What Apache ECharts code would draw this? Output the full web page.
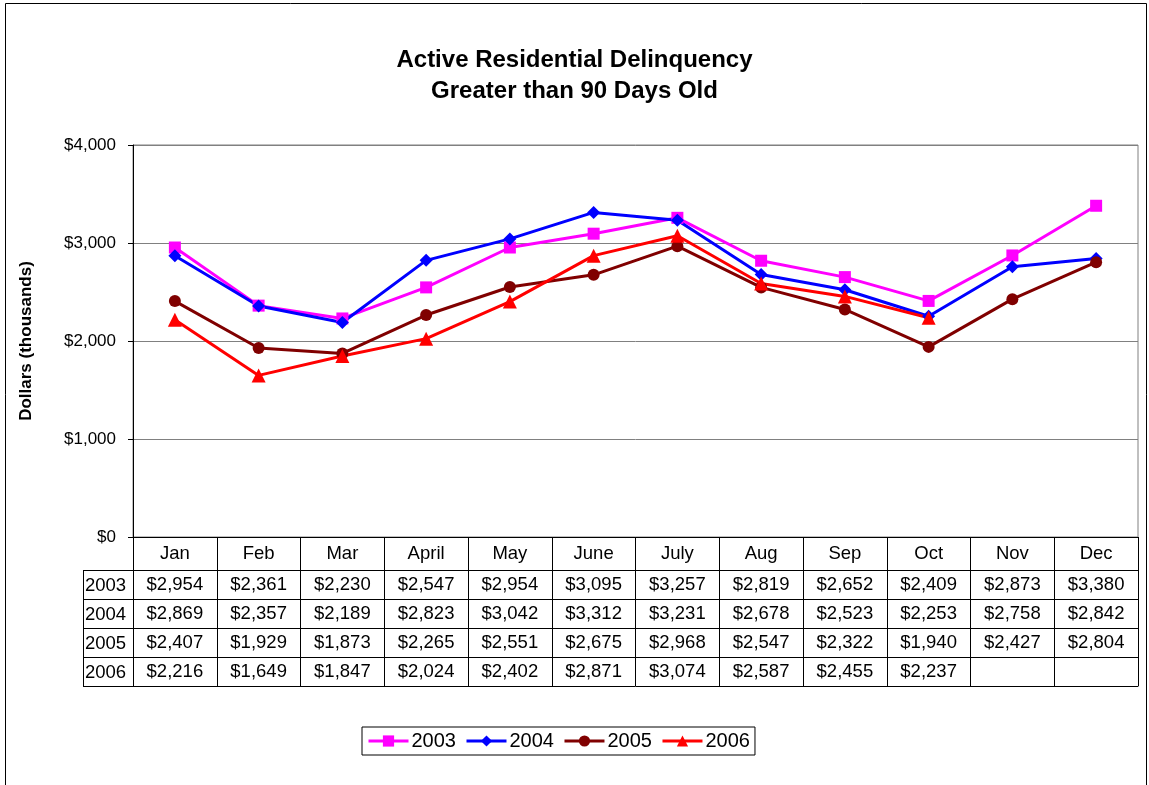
<!DOCTYPE html>
<html>
<head>
<meta charset="utf-8">
<script src="https://cdn.jsdelivr.net/npm/echarts@6/dist/echarts.min.js"></script>
<style>
  html, body { margin: 0; padding: 0; background: #fff; }
  #main { width: 1149px; height: 785px; }
</style>
</head>
<body>
<div id="main"></div>
<script>
var myChart = echarts.init(document.getElementById('main'))

// 数据
var months = ['Jan', 'Feb', 'Mar', 'April', 'May', 'June', 'July', 'Aug', 'Sep', 'Oct', 'Nov', 'Dec']
var years = ['2003', '2004', '2005', '2006']
var colors = ['#FF00FF', '#0000FF', '#800000', '#FF0000']
var symbols = ['rect', 'diamond', 'circle', 'triangle']
var data2003 = [2954, 2361, 2230, 2547, 2954, 3095, 3257, 2819, 2652, 2409, 2873, 3380]
var data2004 = [2869, 2357, 2189, 2823, 3042, 3312, 3231, 2678, 2523, 2253, 2758, 2842]
var data2005 = [2407, 1929, 1873, 2265, 2551, 2675, 2968, 2547, 2322, 1940, 2427, 2804]
var data2006 = [2216, 1649, 1847, 2024, 2402, 2871, 3074, 2587, 2455, 2237]
var allData = [data2003, data2004, data2005, data2006]

var font = 'Liberation Sans, Arial, sans-serif'
var tableFont = 18.5
var gridLeft = 133
var gridBottom = 248
var axisY = 785 - gridBottom
var headerH = 33
var rowH = 29

function fmt (v) {
  if (v == null) return ''
  return '$' + v.toLocaleString('en-US')
}

// x 轴：第一个是月份，其余是数据表的每一行
var xAxes = [{
  type: 'category',
  data: months,
  position: 'bottom',
  axisLine: { lineStyle: { color: '#000', width: 1 } },
  axisTick: { show: true, length: headerH, lineStyle: { color: '#000' } },
  axisLabel: { interval: 0, margin: 7, color: '#000', fontSize: tableFont, fontFamily: font }
}]
years.forEach(function (y, i) {
  var row = months.map(function (m, j) { return fmt(allData[i][j]) })
  xAxes.push({
    type: 'category',
    data: row,
    position: 'bottom',
    offset: headerH + i * rowH,
    axisLine: { lineStyle: { color: '#000', width: 1 } },
    axisTick: { show: true, length: rowH, lineStyle: { color: '#000' } },
    axisLabel: { interval: 0, margin: 5, color: '#000', fontSize: tableFont, fontFamily: font }
  })
})
// 表格底线
xAxes.push({
  type: 'category',
  data: months,
  position: 'bottom',
  offset: headerH + years.length * rowH,
  axisLine: { lineStyle: { color: '#000', width: 1 } },
  axisTick: { show: false },
  axisLabel: { show: false }
})

// 外框和表格左侧的年份列
var graphics = [{
  type: 'rect',
  shape: { x: 5.5, y: 3.5, width: 1141, height: 800 },
  style: { fill: 'none', stroke: '#000', lineWidth: 1 },
  silent: true
}]
for (var k = 0; k <= years.length; k++) {
  var yy = axisY + headerH + k * rowH + 0.5
  graphics.push({
    type: 'line',
    shape: { x1: 83, y1: yy, x2: gridLeft, y2: yy },
    style: { stroke: '#000', lineWidth: 1 }
  })
}
graphics.push({
  type: 'line',
  shape: { x1: 83.5, y1: axisY + headerH, x2: 83.5, y2: axisY + headerH + years.length * rowH },
  style: { stroke: '#000', lineWidth: 1 }
})
years.forEach(function (y, i) {
  graphics.push({
    type: 'text',
    x: 85,
    y: axisY + headerH + i * rowH + rowH / 2 + 1,
    style: { text: y, fill: '#000', fontSize: tableFont, fontFamily: font, verticalAlign: 'middle', align: 'left' }
  })
})

var option = {
  animation: false,
  color: colors,
  title: {
    text: 'Active Residential Delinquency\nGreater than 90 Days Old',
    left: 'center',
    top: 40,
    textStyle: { fontSize: 24, fontWeight: 'bold', color: '#000', fontFamily: font, lineHeight: 31 }
  },
  legend: {
    data: years,
    left: 362,
    top: 727,
    orient: 'horizontal',
    borderColor: '#000',
    borderWidth: 1,
    padding: [4, 5],
    itemGap: 9,
    itemWidth: 40,
    itemHeight: 14,
    lineStyle: { width: 3 },
    textStyle: { fontSize: 20, color: '#000', fontFamily: font, padding: [0, 0, 0, -2] }
  },
  grid: {
    left: gridLeft,
    right: 11,
    top: 145,
    bottom: gridBottom,
    show: true,
    borderColor: '#808080',
    borderWidth: 1
  },
  xAxis: xAxes,
  yAxis: {
    type: 'value',
    min: 0,
    max: 4000,
    interval: 1000,
    name: 'Dollars (thousands)',
    nameLocation: 'middle',
    nameGap: 98,
    nameTextStyle: { fontSize: 17, fontWeight: 'bold', color: '#000', fontFamily: font },
    axisLine: { show: true, lineStyle: { color: '#000' } },
    axisTick: { show: true, length: 5, lineStyle: { color: '#000' } },
    axisLabel: {
      margin: 17,
      fontSize: 17,
      color: '#000',
      fontFamily: font,
      formatter: function (v) { return fmt(v) }
    },
    splitLine: { show: true, lineStyle: { color: '#808080', width: 1 } }
  },
  graphic: graphics,
  series: years.map(function (y, i) {
    return {
      name: y,
      type: 'line',
      xAxisIndex: 0,
      data: allData[i],
      symbol: symbols[i],
      symbolSize: [12, 13, 12, 14][i],
      lineStyle: { width: 3, color: colors[i] },
      itemStyle: { color: colors[i] }
    }
  })
}

myChart.setOption(option)
</script>
</body>
</html>
